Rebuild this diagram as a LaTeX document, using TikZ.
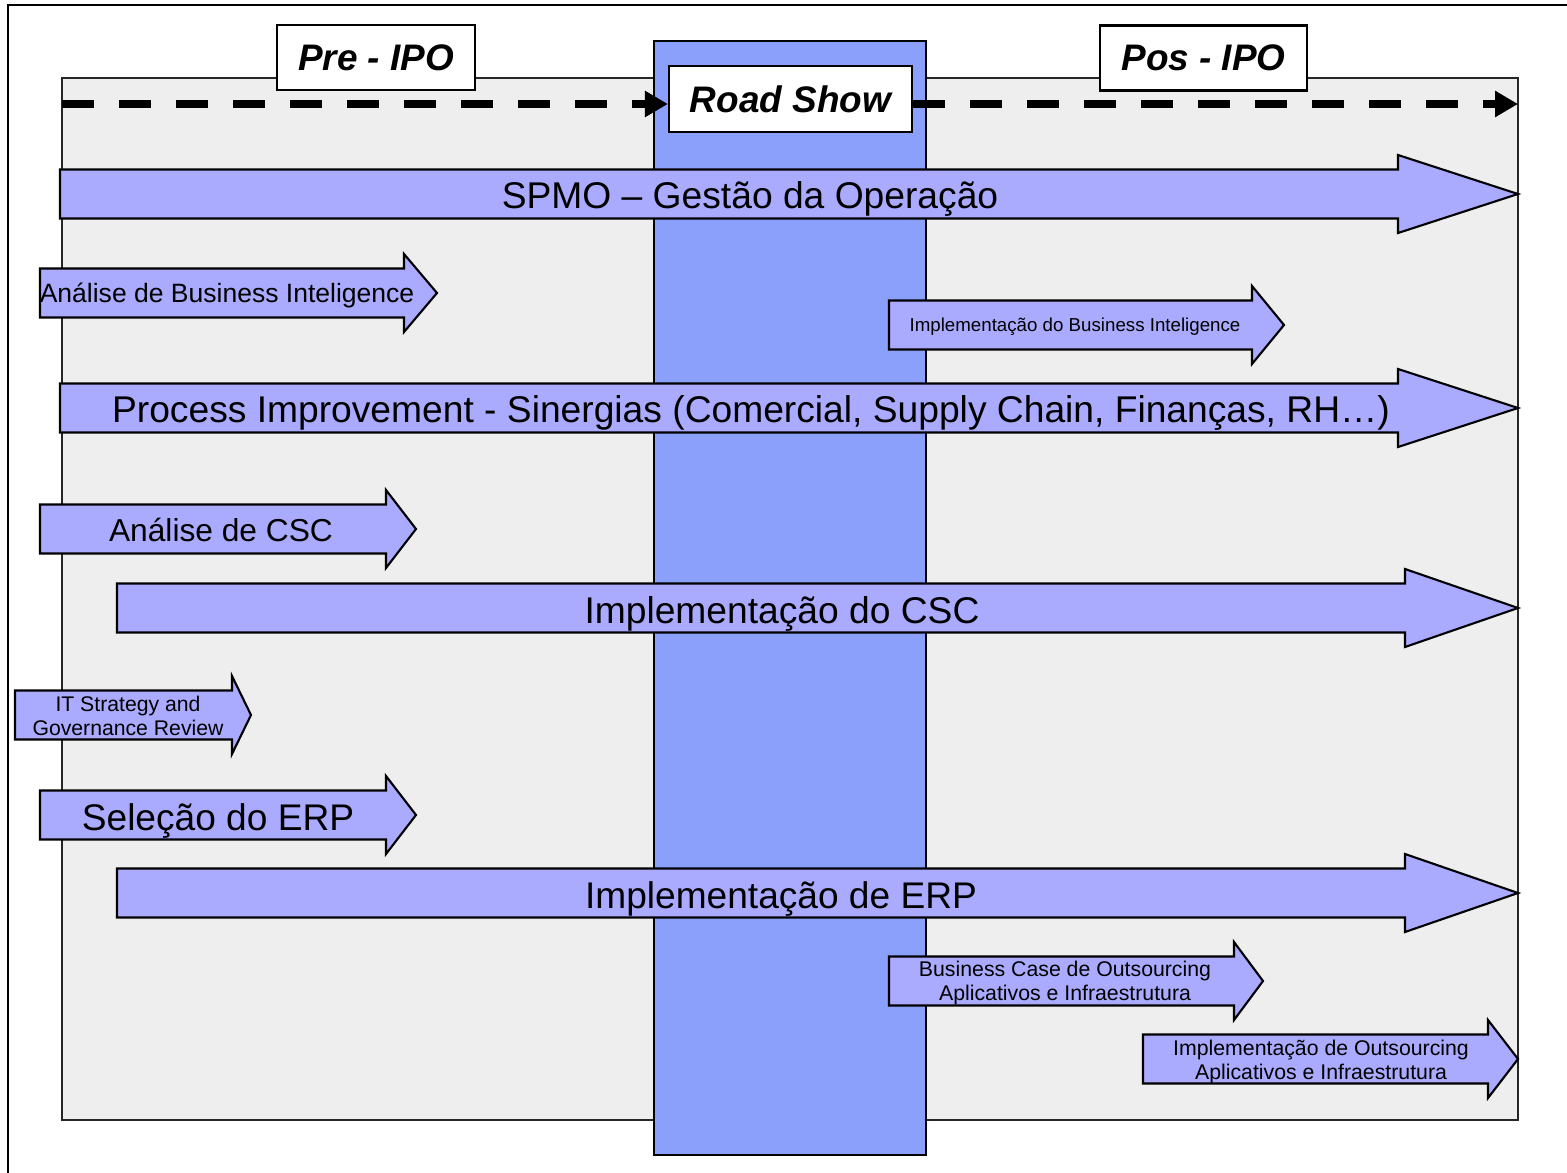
\documentclass[tikz,border=0pt]{standalone}
\usepackage{fontspec}
\setmainfont{Liberation Sans}
\usepackage{xcolor}
\usepackage{tikz}
\usetikzlibrary{arrows.meta}
\definecolor{painel}{HTML}{EEEEEE}
\definecolor{roadcol}{HTML}{8AA0FA}
\definecolor{setacor}{HTML}{AAAAFF}
% block arrow: x left, x head base, x tip, y centre
\newcommand{\seta}[4]{\draw[seta] (#1,#4-24.5) -- (#2,#4-24.5) -- (#2,#4-39) -- (#3,#4) -- (#2,#4+39) -- (#2,#4+24.5) -- (#1,#4+24.5) -- cycle;}
\begin{document}
\begin{tikzpicture}[x=0.01cm, y=-0.01cm,
		seta/.style={draw=black, line width=0.6pt, fill=setacor, line join=miter},
		txt/.style 2 args={inner sep=0pt, align=center, font=\fontsize{#1}{#2}\selectfont},
		marco/.style={draw=black, line width=0.6pt, fill=white, minimum height=0.65cm,
			inner sep=0pt, font=\fontsize{10.5}{12}\selectfont\bfseries\itshape},
		tracejado/.style={line width=2.3pt, dash pattern=on 0.32cm off 0.25cm,
			-{Triangle[length=0.23cm, width=0.25cm]}}
		]
		\useasboundingbox (0,0) rectangle (1567,1173);
		\draw[line width=0.7pt] (8,1173) -- (8,5) -- (1567,5);
		\draw[fill=painel, draw=black!85, line width=0.6pt] (62,78) rectangle (1518,1120);
		\draw[fill=roadcol, draw=black, line width=0.8pt] (654,41) rectangle (926,1155);

		\node[marco, minimum width=1.98cm] (pre) at (376,57.5) {Pre - IPO};
		\node[marco, minimum width=2.07cm] (pos) at (1203.5,58) {Pos - IPO};
		\node[marco, minimum width=2.43cm, minimum height=0.66cm] (road) at (790.5,99) {Road Show};
		\coordinate (inicio) at (62,104);
		\coordinate (fim) at (1518,104);
		\draw[tracejado] (inicio) -- (inicio -| road.west);
		\draw[tracejado] (inicio -| road.east) -- (fim);

		\seta{60}{1398}{1518}{194}
		\node[txt={10.58}{12}] (spmo) at (750,199) {SPMO – Gestão da Operação};
		\seta{40}{404}{437}{293}
		\node[txt={7.54}{9}] (anbi) at (227,295) {Análise de Business Inteligence};
		\seta{889}{1252}{1284}{325}
		\node[txt={5.32}{6.4}] (impbi) at (1075,327) {Implementação do Business Inteligence};
		\seta{60}{1398}{1518}{408}
		\node[txt={10.58}{12}] (proc) at (751,413) {Process Improvement - Sinergias (Comercial, Supply Chain, Finanças, RH…)};
		\seta{40}{386}{416}{529}
		\node[txt={9.02}{10.5}] (ancsc) at (221,530) {Análise de CSC};
		\seta{117}{1405}{1518}{608}
		\node[txt={10.58}{12}] (impcsc) at (782,614) {Implementação do CSC};
		\seta{15}{232}{251}{715}
		\node[txt={6.03}{6.7}] (itgov) at (128,716) {IT Strategy and\\Governance Review};
		\seta{40}{386}{416}{815}
		\node[txt={10.55}{12}] (selerp) at (218,821) {Seleção do ERP};
		\seta{117}{1405}{1518}{893}
		\node[txt={10.55}{12}] (imperp) at (781,899) {Implementação de ERP};
		\seta{889}{1234}{1263}{981}
		\node[txt={6.05}{6.8}] (bcout) at (1065,983) {Business Case de Outsourcing\\Aplicativos e Infraestrutura};
		\seta{1143}{1488}{1518}{1059}
		\node[txt={6.05}{6.8}] (impout) at (1321,1062) {Implementação de Outsourcing\\Aplicativos e Infraestrutura};
\end{tikzpicture}
\end{document}
